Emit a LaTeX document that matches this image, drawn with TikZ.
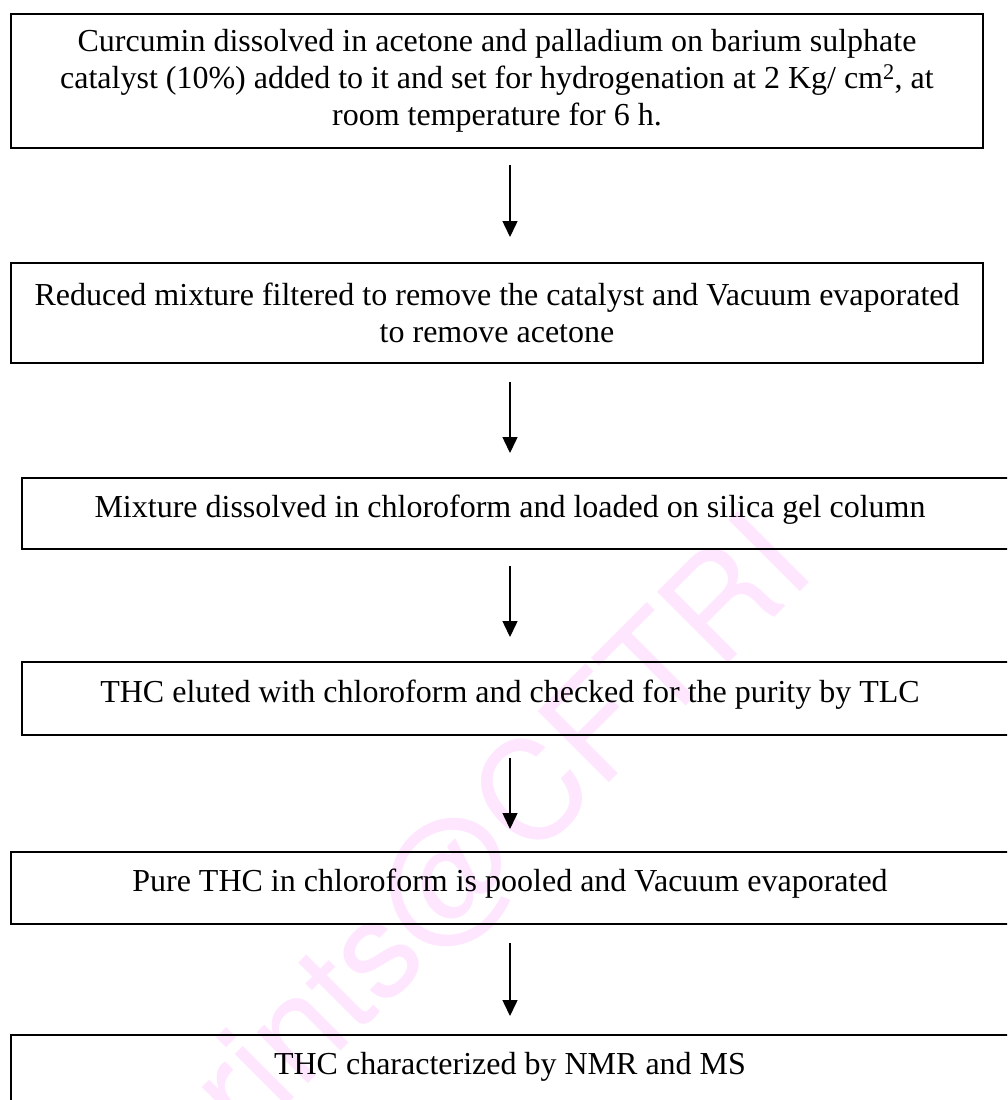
\documentclass[tikz,border=0pt]{standalone}
\usepackage{fontspec}
\setmainfont{Liberation Serif}
\newfontfamily\wmfont{TeX Gyre Heros}
\usetikzlibrary{arrows.meta}
\definecolor{wmpink}{RGB}{255,230,255}
\tikzset{
  box/.style={draw=black, line width=2pt, rectangle, inner sep=0pt, outer sep=0pt,
    align=center, font=\fontsize{32}{37}\selectfont},
  onebox/.style={box, text depth=15pt},
  arr/.style={draw=black, line width=1.5pt, -{Triangle[width=15pt,length=16pt]}},
  wm/.style={text=wmpink, rotate=45, anchor=base, inner sep=0pt,
    font=\wmfont\fontsize{138}{138}\selectfont}
}
\begin{document}
\begin{tikzpicture}[x=1pt,y=-1pt]
\useasboundingbox (0,0) rectangle (1007,1100);
\clip (0,0) rectangle (1007,1100);
\fill[white] (0,0) rectangle (1007,1100);
% watermark
\node[wm] (wmark) at (478,914) {eprints@CFTRI};
% boxes
\node[box, minimum width=972pt, minimum height=134pt] (b1) at (497,81)
  {Curcumin dissolved in acetone and palladium on barium sulphate\\
   catalyst (10\%) added to it and set for hydrogenation at 2 Kg/ cm\textsuperscript{2}, at\\
   room temperature for 6 h.};
\node[box, minimum width=972pt, minimum height=100pt] (b2) at (497,313)
  {Reduced mixture filtered to remove the catalyst and Vacuum evaporated\\
   to remove acetone};
\node[onebox, minimum width=998pt, minimum height=71pt] (b3) at (521,513.5)
  {\hspace*{-22pt}Mixture dissolved in chloroform and loaded on silica gel column};
\node[onebox, minimum width=998pt, minimum height=73pt] (b4) at (521,698.5)
  {\hspace*{-22pt}THC eluted with chloroform and checked for the purity by TLC};
\node[onebox, minimum width=1009pt, minimum height=72pt] (b5) at (515.5,888)
  {\hspace*{-11pt}Pure THC in chloroform is pooled and Vacuum evaporated};
\node[onebox, minimum width=1009pt, minimum height=72pt] (b6) at (515.5,1071)
  {\hspace*{-11pt}THC characterized by NMR and MS};
% arrows
\coordinate (ax) at (510,0);
\draw[arr, shorten <=17pt, shorten >=26pt] (b1.south -| ax) -- (b2.north -| ax);
\draw[arr, shorten <=19pt, shorten >=25pt] (b2.south -| ax) -- (b3.north -| ax);
\draw[arr, shorten <=17pt, shorten >=25pt] (b3.south -| ax) -- (b4.north -| ax);
\draw[arr, shorten <=23pt, shorten >=23pt] (b4.south -| ax) -- (b5.north -| ax);
\draw[arr, shorten <=19pt, shorten >=19pt] (b5.south -| ax) -- (b6.north -| ax);
\end{tikzpicture}
\end{document}
